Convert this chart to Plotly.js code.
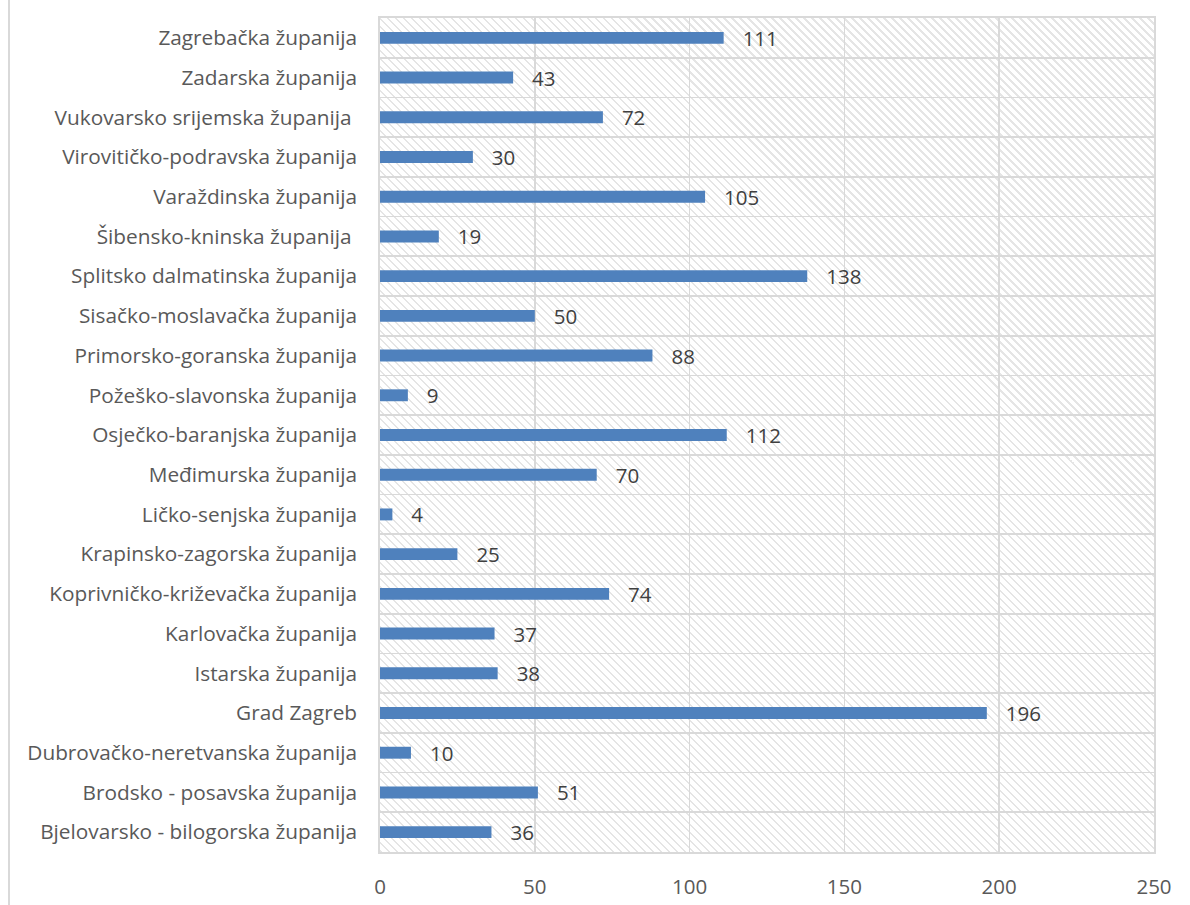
<!DOCTYPE html>
<html>
<head>
<meta charset="utf-8">
<script src="https://cdn.plot.ly/plotly-3.0.1.min.js"></script>
<style>
  html, body { margin: 0; padding: 0; background: #ffffff; }
  #wrap { position: relative; width: 1190px; height: 905px; }
  #frame { position: absolute; left: 8px; top: 0; width: 2px; height: 905px; background: #d9d9d9; }
  #hatch { position: absolute; left: 380px; top: 18px; width: 774px; height: 834px;
    background: repeating-linear-gradient(45deg, #e5e5e5 0px, #e5e5e5 1.7px, #ffffff 1.7px, #ffffff 5.66px); }
  #chart { position: absolute; left: 0; top: 0; width: 1190px; height: 905px; }
</style>
</head>
<body>
<div id="wrap">
  <div id="frame"></div>
  <div id="hatch"></div>
  <div id="chart"></div>
</div>
<script>
const categories = [
  "Zagrebačka županija",
  "Zadarska županija",
  "Vukovarsko srijemska županija\u00a0",
  "Virovitičko-podravska županija",
  "Varaždinska županija",
  "Šibensko-kninska županija\u00a0",
  "Splitsko dalmatinska županija",
  "Sisačko-moslavačka županija",
  "Primorsko-goranska županija",
  "Požeško-slavonska županija",
  "Osječko-baranjska županija",
  "Međimurska županija",
  "Ličko-senjska županija",
  "Krapinsko-zagorska županija",
  "Koprivničko-križevačka županija",
  "Karlovačka županija",
  "Istarska županija",
  "Grad Zagreb",
  "Dubrovačko-neretvanska županija",
  "Brodsko - posavska županija",
  "Bjelovarsko - bilogorska županija"
];
const values = [111, 43, 72, 30, 105, 19, 138, 50, 88, 9, 112, 70, 4, 25, 74, 37, 38, 196, 10, 51, 36];
const xTicks = [0, 50, 100, 150, 200, 250];

const FONT = "Open Sans, Noto Sans, sans-serif";
const TXT = "#595959";

const trace = {
  type: "bar",
  orientation: "h",
  y: categories,
  x: values,
  width: 0.3,
  marker: { color: "#4F81BD" },
  text: values.map(v => "\u00a0\u00a0\u00a0" + v),
  textposition: "outside",
  constraintext: "none",
  cliponaxis: false,
  textfont: { family: FONT, size: 20.5, color: "#404040" },
  hoverinfo: "skip"
};

const layout = {
  width: 1190,
  height: 905,
  margin: { l: 380, r: 36, t: 18, b: 53, pad: 0 },
  paper_bgcolor: "rgba(0,0,0,0)",
  plot_bgcolor: "rgba(0,0,0,0)",
  showlegend: false,
  font: { family: FONT, size: 20.5, color: TXT },
  xaxis: {
    range: [0, 250],
    tickvals: xTicks,
    ticktext: xTicks.map(String),
    showgrid: true,
    gridcolor: "#d9d9d9",
    gridwidth: 1.8,
    zeroline: false,
    showline: true,
    linecolor: "#d9d9d9",
    linewidth: 1.8,
    mirror: true,
    ticks: "",
    ticklabelstandoff: 16,
    tickfont: { family: FONT, size: 20.5, color: TXT },
    fixedrange: true
  },
  yaxis: {
    type: "category",
    autorange: "reversed",
    tickson: "boundaries",
    showgrid: true,
    gridcolor: "#d9d9d9",
    gridwidth: 1.8,
    showline: true,
    linecolor: "#d9d9d9",
    linewidth: 1.8,
    mirror: true,
    ticks: "",
    ticklabelstandoff: 17,
    tickfont: { family: FONT, size: 20.8, color: TXT },
    fixedrange: true
  }
};

Plotly.newPlot("chart", [trace], layout, { displayModeBar: false, staticPlot: true });
</script>
</body>
</html>
